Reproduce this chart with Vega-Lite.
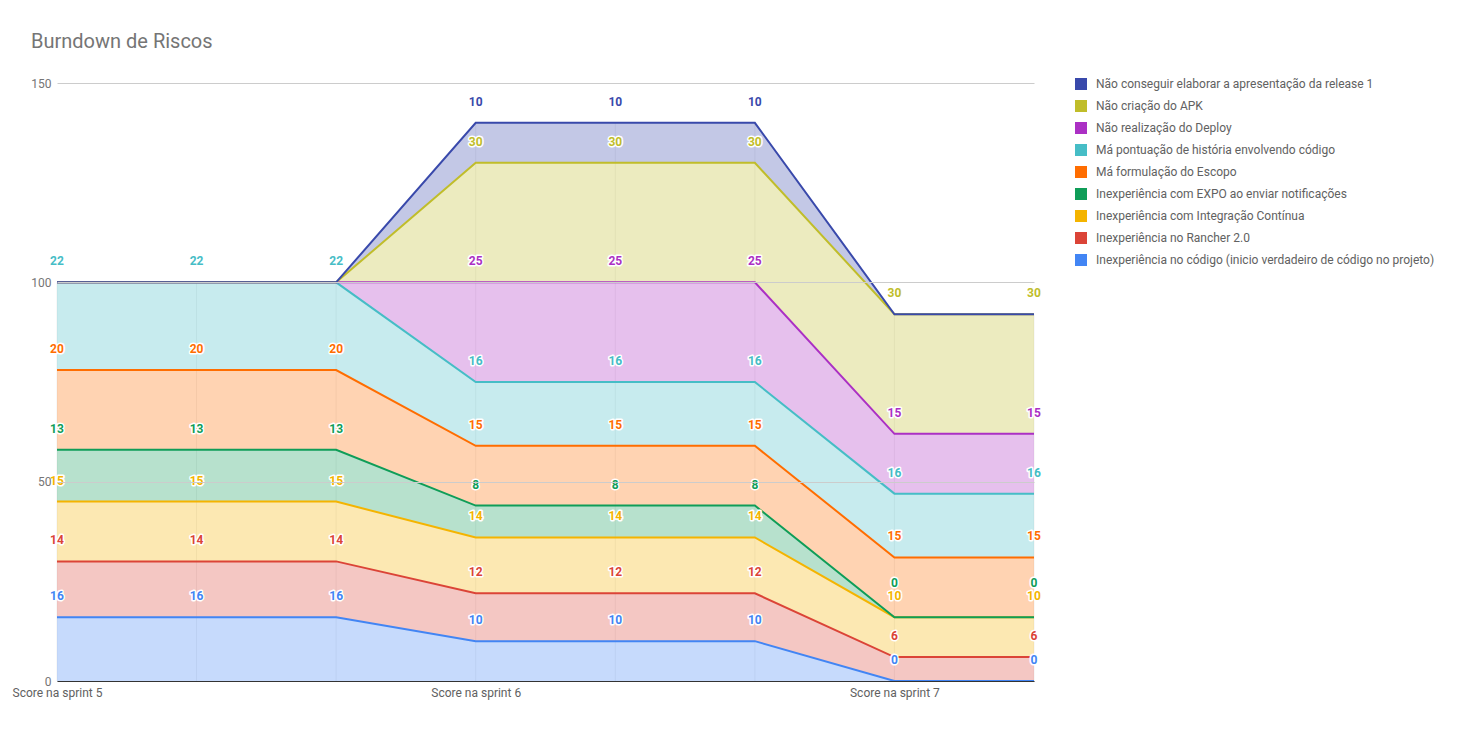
{
  "$schema": "https://vega.github.io/schema/vega-lite/v6.json",
  "width": 977,
  "height": 598,
  "autosize": "none",
  "padding": {"left": 57, "top": 83, "right": 425, "bottom": 49},
  "config": {"font": "Roboto", "view": {"stroke": null}},
  "title": {"text": "Burndown de Riscos", "anchor": "start", "frame": "group", "dx": -26, "offset": 25, "fontSize": 20, "fontWeight": "normal", "color": "#757575", "font": "Roboto"},
  "data": {"values": [
    {"x":1,"s":"Inexperiência no código (inicio verdadeiro de código no projeto)","o":1,"v":16,"l":16},
    {"x":1,"s":"Inexperiência no Rancher 2.0","o":2,"v":14,"l":14},
    {"x":1,"s":"Inexperiência com Integração Contínua","o":3,"v":15,"l":15},
    {"x":1,"s":"Inexperiência com EXPO ao enviar notificações","o":4,"v":13,"l":13},
    {"x":1,"s":"Má formulação do Escopo","o":5,"v":20,"l":20},
    {"x":1,"s":"Má pontuação de história envolvendo código","o":6,"v":22,"l":22},
    {"x":1,"s":"Não realização do Deploy","o":7,"v":0,"l":null},
    {"x":1,"s":"Não criação do APK","o":8,"v":0,"l":null},
    {"x":1,"s":"Não conseguir elaborar a apresentação da release 1","o":9,"v":0,"l":null},
    {"x":2,"s":"Inexperiência no código (inicio verdadeiro de código no projeto)","o":1,"v":16,"l":16},
    {"x":2,"s":"Inexperiência no Rancher 2.0","o":2,"v":14,"l":14},
    {"x":2,"s":"Inexperiência com Integração Contínua","o":3,"v":15,"l":15},
    {"x":2,"s":"Inexperiência com EXPO ao enviar notificações","o":4,"v":13,"l":13},
    {"x":2,"s":"Má formulação do Escopo","o":5,"v":20,"l":20},
    {"x":2,"s":"Má pontuação de história envolvendo código","o":6,"v":22,"l":22},
    {"x":2,"s":"Não realização do Deploy","o":7,"v":0,"l":null},
    {"x":2,"s":"Não criação do APK","o":8,"v":0,"l":null},
    {"x":2,"s":"Não conseguir elaborar a apresentação da release 1","o":9,"v":0,"l":null},
    {"x":3,"s":"Inexperiência no código (inicio verdadeiro de código no projeto)","o":1,"v":16,"l":16},
    {"x":3,"s":"Inexperiência no Rancher 2.0","o":2,"v":14,"l":14},
    {"x":3,"s":"Inexperiência com Integração Contínua","o":3,"v":15,"l":15},
    {"x":3,"s":"Inexperiência com EXPO ao enviar notificações","o":4,"v":13,"l":13},
    {"x":3,"s":"Má formulação do Escopo","o":5,"v":20,"l":20},
    {"x":3,"s":"Má pontuação de história envolvendo código","o":6,"v":22,"l":22},
    {"x":3,"s":"Não realização do Deploy","o":7,"v":0,"l":null},
    {"x":3,"s":"Não criação do APK","o":8,"v":0,"l":null},
    {"x":3,"s":"Não conseguir elaborar a apresentação da release 1","o":9,"v":0,"l":null},
    {"x":4,"s":"Inexperiência no código (inicio verdadeiro de código no projeto)","o":1,"v":10,"l":10},
    {"x":4,"s":"Inexperiência no Rancher 2.0","o":2,"v":12,"l":12},
    {"x":4,"s":"Inexperiência com Integração Contínua","o":3,"v":14,"l":14},
    {"x":4,"s":"Inexperiência com EXPO ao enviar notificações","o":4,"v":8,"l":8},
    {"x":4,"s":"Má formulação do Escopo","o":5,"v":15,"l":15},
    {"x":4,"s":"Má pontuação de história envolvendo código","o":6,"v":16,"l":16},
    {"x":4,"s":"Não realização do Deploy","o":7,"v":25,"l":25},
    {"x":4,"s":"Não criação do APK","o":8,"v":30,"l":30},
    {"x":4,"s":"Não conseguir elaborar a apresentação da release 1","o":9,"v":10,"l":10},
    {"x":5,"s":"Inexperiência no código (inicio verdadeiro de código no projeto)","o":1,"v":10,"l":10},
    {"x":5,"s":"Inexperiência no Rancher 2.0","o":2,"v":12,"l":12},
    {"x":5,"s":"Inexperiência com Integração Contínua","o":3,"v":14,"l":14},
    {"x":5,"s":"Inexperiência com EXPO ao enviar notificações","o":4,"v":8,"l":8},
    {"x":5,"s":"Má formulação do Escopo","o":5,"v":15,"l":15},
    {"x":5,"s":"Má pontuação de história envolvendo código","o":6,"v":16,"l":16},
    {"x":5,"s":"Não realização do Deploy","o":7,"v":25,"l":25},
    {"x":5,"s":"Não criação do APK","o":8,"v":30,"l":30},
    {"x":5,"s":"Não conseguir elaborar a apresentação da release 1","o":9,"v":10,"l":10},
    {"x":6,"s":"Inexperiência no código (inicio verdadeiro de código no projeto)","o":1,"v":10,"l":10},
    {"x":6,"s":"Inexperiência no Rancher 2.0","o":2,"v":12,"l":12},
    {"x":6,"s":"Inexperiência com Integração Contínua","o":3,"v":14,"l":14},
    {"x":6,"s":"Inexperiência com EXPO ao enviar notificações","o":4,"v":8,"l":8},
    {"x":6,"s":"Má formulação do Escopo","o":5,"v":15,"l":15},
    {"x":6,"s":"Má pontuação de história envolvendo código","o":6,"v":16,"l":16},
    {"x":6,"s":"Não realização do Deploy","o":7,"v":25,"l":25},
    {"x":6,"s":"Não criação do APK","o":8,"v":30,"l":30},
    {"x":6,"s":"Não conseguir elaborar a apresentação da release 1","o":9,"v":10,"l":10},
    {"x":7,"s":"Inexperiência no código (inicio verdadeiro de código no projeto)","o":1,"v":0,"l":0},
    {"x":7,"s":"Inexperiência no Rancher 2.0","o":2,"v":6,"l":6},
    {"x":7,"s":"Inexperiência com Integração Contínua","o":3,"v":10,"l":10},
    {"x":7,"s":"Inexperiência com EXPO ao enviar notificações","o":4,"v":0,"l":0},
    {"x":7,"s":"Má formulação do Escopo","o":5,"v":15,"l":15},
    {"x":7,"s":"Má pontuação de história envolvendo código","o":6,"v":16,"l":16},
    {"x":7,"s":"Não realização do Deploy","o":7,"v":15,"l":15},
    {"x":7,"s":"Não criação do APK","o":8,"v":30,"l":30},
    {"x":7,"s":"Não conseguir elaborar a apresentação da release 1","o":9,"v":0,"l":null},
    {"x":8,"s":"Inexperiência no código (inicio verdadeiro de código no projeto)","o":1,"v":0,"l":0},
    {"x":8,"s":"Inexperiência no Rancher 2.0","o":2,"v":6,"l":6},
    {"x":8,"s":"Inexperiência com Integração Contínua","o":3,"v":10,"l":10},
    {"x":8,"s":"Inexperiência com EXPO ao enviar notificações","o":4,"v":0,"l":0},
    {"x":8,"s":"Má formulação do Escopo","o":5,"v":15,"l":15},
    {"x":8,"s":"Má pontuação de história envolvendo código","o":6,"v":16,"l":16},
    {"x":8,"s":"Não realização do Deploy","o":7,"v":15,"l":15},
    {"x":8,"s":"Não criação do APK","o":8,"v":30,"l":30},
    {"x":8,"s":"Não conseguir elaborar a apresentação da release 1","o":9,"v":0,"l":null}
  ]},
  "encoding": {
    "x": {"field": "x", "type": "quantitative",
      "scale": {"domain": [1, 8], "nice": false, "zero": false},
      "axis": {"title": null, "values": [1,4,7], "labelExpr": "datum.value == 1 ? 'Score na sprint 5' : datum.value == 4 ? 'Score na sprint 6' : 'Score na sprint 7'",
        "ticks": false, "domainColor": "#333333", "domainWidth": 1, "grid": false,
        "labelColor": "#616161", "labelFontSize": 12, "labelPadding": 6, "labelFont": "Roboto", "labelFlush": false, "labelOverlap": false, "zindex": 1}},
    "color": {"field": "s", "type": "nominal",
      "scale": {"domain": [
        "Não conseguir elaborar a apresentação da release 1",
        "Não criação do APK",
        "Não realização do Deploy",
        "Má pontuação de história envolvendo código",
        "Má formulação do Escopo",
        "Inexperiência com EXPO ao enviar notificações",
        "Inexperiência com Integração Contínua",
        "Inexperiência no Rancher 2.0",
        "Inexperiência no código (inicio verdadeiro de código no projeto)"],
        "range": ["#3949ab", "#c0bd2a", "#ab30c4", "#46bdc6", "#ff6d00", "#0f9d58", "#f4b400", "#db4437", "#4285f4"]},
      "legend": {"title": null, "orient": "none", "legendX": 1018, "legendY": -5, "symbolType": "square", "symbolSize": 144, "symbolStrokeWidth": 0, "symbolOpacity": 1,
        "labelFontSize": 12, "labelColor": "#616161", "labelFont": "Roboto", "rowPadding": 10, "labelOffset": 9, "labelLimit": 400}}
  },
  "layer": [
    {
      "transform": [{"aggregate": [{"op": "sum", "field": "v", "as": "total"}], "groupby": ["x"]}],
      "mark": {"type": "rule", "color": "#000000", "opacity": 0.06, "strokeWidth": 1},
      "encoding": {
        "y": {"field": "total", "type": "quantitative"},
        "y2": {"datum": 0},
        "color": null
      }
    },
    {
      "mark": {"type": "area", "fillOpacity": 0.3, "line": {"strokeWidth": 2}},
      "encoding": {
        "y": {"field": "v", "type": "quantitative", "stack": "zero",
          "scale": {"domain": [0, 150], "nice": false},
          "axis": {"title": null, "values": [0, 50, 100, 150], "ticks": false, "domain": false, "gridColor": "#cccccc", "labelColor": "#757575", "labelFontSize": 12, "labelPadding": 6, "labelFont": "Roboto", "zindex": 1}},
        "order": {"field": "o", "type": "quantitative"}
      }
    },
    {
      "transform": [
        {"stack": "v", "groupby": ["x"], "sort": [{"field": "o", "order": "ascending"}], "as": ["v0", "v1"]},
        {"filter": "isValid(datum.l) && !(datum.o == 4 && datum.l == 0)"}
      ],
      "layer": [
        {"mark": {"type": "text", "dy": -21, "fontSize": 12, "fontWeight": "bold", "font": "Roboto", "stroke": "white", "strokeWidth": 3, "strokeJoin": "round"}},
        {"mark": {"type": "text", "dy": -21, "fontSize": 12, "fontWeight": "bold", "font": "Roboto"}}
      ],
      "encoding": {
        "y": {"field": "v1", "type": "quantitative"},
        "text": {"field": "l", "type": "quantitative"},
        "color": {"field": "s", "type": "nominal", "legend": null}
      }
    },
    {
      "transform": [
        {"stack": "v", "groupby": ["x"], "sort": [{"field": "o", "order": "ascending"}], "as": ["v0", "v1"]},
        {"filter": "datum.o == 4 && datum.l == 0"}
      ],
      "layer": [
        {"mark": {"type": "text", "dy": -34, "fontSize": 12, "fontWeight": "bold", "font": "Roboto", "stroke": "white", "strokeWidth": 3, "strokeJoin": "round"}},
        {"mark": {"type": "text", "dy": -34, "fontSize": 12, "fontWeight": "bold", "font": "Roboto"}}
      ],
      "encoding": {
        "y": {"field": "v1", "type": "quantitative"},
        "text": {"field": "l", "type": "quantitative"},
        "color": {"field": "s", "type": "nominal", "legend": null}
      }
    }
  ]
}
